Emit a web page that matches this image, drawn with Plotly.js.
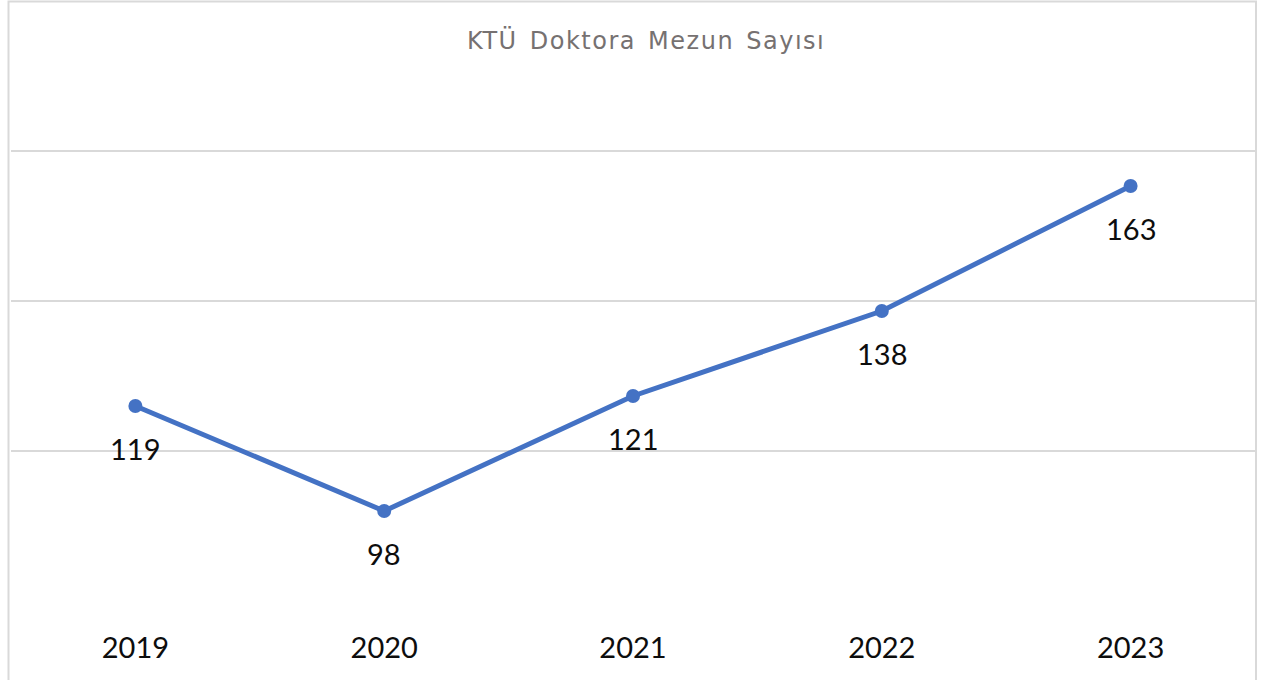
<!DOCTYPE html>
<html>
<head>
<meta charset="utf-8">
<script src="https://cdn.plot.ly/plotly-3.0.1.min.js"></script>
<style>
html,body{margin:0;padding:0;background:#fff;}
#chart{width:1262px;height:680px;}
.gtitle{letter-spacing:1.5px;word-spacing:3px;}
</style>
</head>
<body>
<div id="chart"></div>
<script>
const years = ['2019', '2020', '2021', '2022', '2023'];
const graduates = [119, 98, 121, 138, 163];
const chartTitle = 'KTÜ Doktora Mezun Sayısı';

const FONT = 'Lato, "Open Sans", sans-serif';

const trace = {
  x: years,
  y: graduates,
  type: 'scatter',
  mode: 'lines+markers',
  line: {color: '#4472C4', width: 5},
  marker: {color: '#4472C4', size: 14},
  hoverinfo: 'x+y',
  cliponaxis: false
};

const annotations = years.map((yr, i) => ({
  x: i, y: graduates[i], xref: 'x', yref: 'y',
  text: String(graduates[i]), showarrow: false,
  yshift: -42, font: {family: FONT, size: 29, color: '#0d0d0d'}
}));

const layout = {
  width: 1262, height: 680,
  margin: {l: 11, r: 7, t: 1, b: 79},
  paper_bgcolor: '#ffffff', plot_bgcolor: '#ffffff',
  showlegend: false,
  title: {
    text: chartTitle, xref: 'container', x: 0.512, xanchor: 'center',
    yref: 'container', y: 1 - 41/680, yanchor: 'middle',
    font: {family: '"DejaVu Sans", sans-serif', size: 24, color: '#767171'}
  },
  xaxis: {
    type: 'category', range: [-0.5, years.length - 0.5], autorange: false,
    showgrid: false, zeroline: false, showline: false,
    ticks: '', tickfont: {family: FONT, size: 29, color: '#0d0d0d'},
    ticklabelstandoff: 27, fixedrange: true
  },
  yaxis: {
    range: [80, 200], autorange: false, dtick: 30, tick0: 80, showticklabels: false,
    showgrid: true, gridcolor: '#d9d9d9', gridwidth: 2,
    zeroline: false, showline: false, ticks: '', fixedrange: true
  },
  annotations: annotations,
  shapes: [{
    type: 'rect', xref: 'paper', yref: 'paper',
    x0: (8.5 - 11) / 1244, x1: (1256 - 11) / 1244,
    y0: (601 - 690) / 600, y1: (601 - 1.5) / 600,
    line: {color: '#d9d9d9', width: 2}, fillcolor: 'rgba(0,0,0,0)', layer: 'below'
  }]
};

Plotly.newPlot('chart', [trace], layout, {displayModeBar: false, staticPlot: true});
</script>
</body>
</html>
